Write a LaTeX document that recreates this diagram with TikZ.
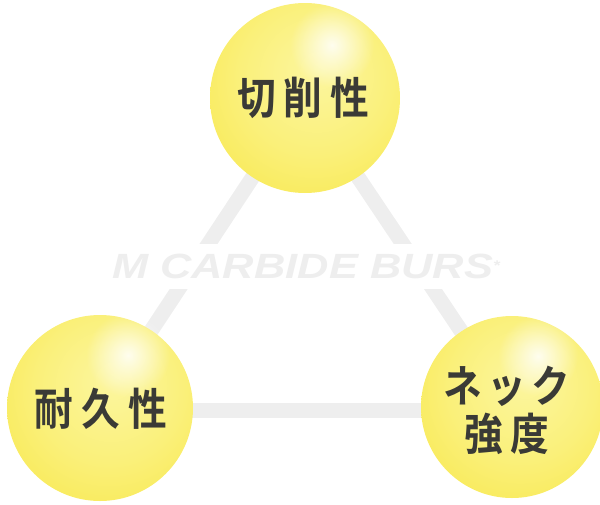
\documentclass[tikz,border=0pt]{standalone}
\usepackage{fontspec}
\newfontfamily\jp{Noto Sans CJK JP Bold}
\newfontfamily\brand{Liberation Sans}
\usetikzlibrary{fadings}
\definecolor{yb0}{HTML}{FCF6A0}
\definecolor{yb1}{HTML}{FAF07A}
\definecolor{yb2}{HTML}{F8E642}
\definecolor{yb3}{HTML}{F5DC1A}
\definecolor{lineg}{HTML}{EEEEEE}
\definecolor{brandg}{HTML}{EEEEEE}
\definecolor{txt}{HTML}{3A3A36}
\pgfdeclareradialshading{yellowball}{\pgfpoint{4bp}{8bp}}{%
  color(0bp)=(yb0); color(20bp)=(yb1); color(42bp)=(yb2); color(55bp)=(yb3); color(60bp)=(yb3)}
\tikzfading[name=glow, inner color=transparent!15, outer color=transparent!100]
\tikzset{
  ball/.style={circle, minimum size=#1, inner sep=0pt, shading=yellowball},
  link/.style={draw=lineg, line width=15pt},
  jptext/.style={text=txt, font=\jp\fontsize{44}{50}\selectfont, xscale=0.88, align=center},
}
\newcommand{\hl}[3]{\fill[white, path fading=glow] (#1,#2) circle (#3);}
\begin{document}
\begin{tikzpicture}[x=1pt,y=-1pt]
\useasboundingbox (0,0) rectangle (600,504);
% centers
\coordinate (ct) at (305,98);
\coordinate (cl) at (100,408);
\coordinate (cr) at (512,407);
% links
\draw[link] (ct) -- (cl);
\draw[link] (ct) -- (cr);
\draw[link] (100,410) -- (512,410);
% brand text
\node[fill=white, inner xsep=2pt, minimum height=45pt, text=brandg,
      font=\brand\bfseries\itshape\fontsize{35}{40}\selectfont, xscale=1.24] (brand) at (306,266)
  {M CARBIDE BURS\raisebox{8pt}{\fontsize{14}{14}\selectfont *}};
% balls
\node[ball=190pt] (top) at (ct) {};
\node[ball=186pt] (left) at (cl) {};
\node[ball=182pt] (right) at (cr) {};
\hl{332}{45}{42}
\hl{128}{355}{42}
\hl{538}{356}{40}
% labels
\node[jptext] (t1) at (303,98) {切\hspace{9pt}削\hspace{9pt}性};
\node[jptext] (t2) at (101,409) {耐\hspace{9pt}久\hspace{9pt}性};
\node[jptext, font=\jp\fontsize{44}{48}\selectfont] (t3) at (507,410) {ネ\hspace{6pt}ッ\hspace{6pt}ク\\強\hspace{9pt}度};
\end{tikzpicture}
\end{document}
